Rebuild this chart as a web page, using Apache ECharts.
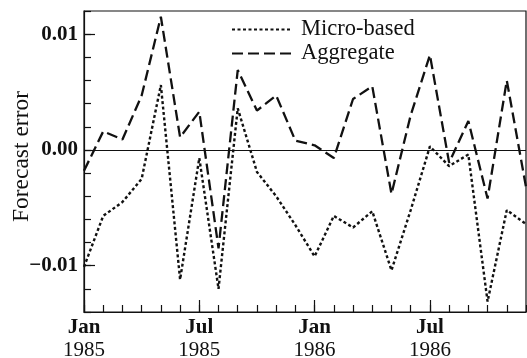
<!DOCTYPE html>
<html>
<head>
<meta charset="utf-8">
<script src="https://cdn.jsdelivr.net/npm/echarts@6/dist/echarts.min.js"></script>
<style>
html,body{margin:0;padding:0;background:#fff;}
#chart{width:527px;height:358px;}
</style>
</head>
<body>
<div id="chart"></div>
<script>
// ---- data ----
const months = [
  'Jan 1985','Feb 1985','Mar 1985','Apr 1985','May 1985','Jun 1985',
  'Jul 1985','Aug 1985','Sep 1985','Oct 1985','Nov 1985','Dec 1985',
  'Jan 1986','Feb 1986','Mar 1986','Apr 1986','May 1986','Jun 1986',
  'Jul 1986','Aug 1986','Sep 1986','Oct 1986','Nov 1986','Dec 1986'
];
const microBased = [
  -0.0101, -0.0057, -0.0045, -0.0025, 0.0056, -0.0112,
  -0.0007, -0.0120, 0.0036, -0.0019, -0.0040, -0.0065,
  -0.0092, -0.0057, -0.0067, -0.0053, -0.0104, -0.0052,
  0.0003, -0.0014, -0.0004, -0.0131, -0.0052, -0.0064
];
const aggregate = [
  -0.0018, 0.0016, 0.0009, 0.0047, 0.0115, 0.0011,
  0.0033, -0.0085, 0.0069, 0.0034, 0.0047, 0.0008,
  0.0004, -0.0007, 0.0044, 0.0055, -0.0038, 0.0030,
  0.0082, -0.0011, 0.0025, -0.0042, 0.0060, -0.0032
];
const yTickValues = [-0.01, 0, 0.01];
const yTickLabels = ['\u22120.01', '0.00', '0.01'];
const seriesNames = ['Micro-based', 'Aggregate'];
const yName = 'Forecast error';

// ---- chart ----
const FONT = "'Liberation Serif', 'DejaVu Serif', serif";
const INK = '#111';
const chart = echarts.init(document.getElementById('chart'), null, {renderer: 'canvas'});

function yLabel(v) {
  for (let i = 0; i < yTickValues.length; i++) {
    if (Math.abs(v - yTickValues[i]) < 1e-9) return yTickLabels[i];
  }
  return '';
}

const option = {
  backgroundColor: '#fff',
  animation: false,
  grid: {
    left: 84, right: 1, top: 11, bottom: 46,
    containLabel: false, outerBoundsMode: 'none',
    show: true, borderColor: INK, borderWidth: 1.2, backgroundColor: 'transparent'
  },
  legend: {
    data: seriesNames,
    orient: 'vertical',
    left: 231, top: 18,
    padding: 0,
    itemWidth: 59, itemHeight: 14, itemGap: 1,
    itemStyle: {color: 'transparent', borderColor: 'transparent', borderWidth: 0, opacity: 0},
    textStyle: {fontFamily: FONT, fontSize: 22.5, color: INK, lineHeight: 22, padding: [0, 0, 0, 5]}
  },
  xAxis: [
    {
      type: 'category', data: months, boundaryGap: false, position: 'bottom',
      axisLine: {show: true, onZero: false, lineStyle: {color: INK, width: 1.2}},
      axisTick: {show: true, inside: true, length: 7, interval: 0, lineStyle: {color: INK, width: 1.2}},
      axisLabel: {
        interval: function (i) { return i % 6 === 0; },
        margin: 5, color: INK,
        formatter: function (v) { const p = v.split(' '); return '{m|' + p[0] + '}\n{y|' + p[1] + '}'; },
        rich: {
          m: {fontFamily: FONT, fontSize: 21, fontWeight: 'bold', color: INK, lineHeight: 22},
          y: {fontFamily: FONT, fontSize: 21, color: INK, lineHeight: 22}
        }
      },
      splitLine: {show: false}
    },
    {
      type: 'category', data: months, boundaryGap: false, position: 'bottom',
      axisLine: {show: false, onZero: false},
      axisTick: {show: true, inside: true, length: 12, interval: function (i) { return i % 6 === 0; }, lineStyle: {color: INK, width: 1.2}},
      axisLabel: {show: false},
      splitLine: {show: false}
    }
  ],
  yAxis: [
    {
      type: 'value', min: -0.014, max: 0.012, interval: 0.002, position: 'left',
      axisLine: {show: true, onZero: false, lineStyle: {color: INK, width: 1.2}},
      axisTick: {show: true, inside: true, length: 7, lineStyle: {color: INK, width: 1.2}},
      axisLabel: {show: false},
      splitLine: {show: false}
    },
    {
      type: 'value', min: -0.014, max: 0.012, interval: 0.002, position: 'left',
      name: yName, nameLocation: 'middle', nameGap: 50, nameRotate: 90, nameMoveOverlap: false,
      nameTextStyle: {fontFamily: FONT, fontSize: 23.5, color: INK, padding: [0, 0, 0, 10]},
      axisLine: {show: false, onZero: false},
      axisTick: {show: true, inside: true, length: 11, customValues: yTickValues, lineStyle: {color: INK, width: 1.2}},
      axisLabel: {
        show: true, customValues: yTickValues, margin: 6,
        fontFamily: FONT, fontSize: 21, fontWeight: 'bold', color: INK,
        formatter: yLabel
      },
      splitLine: {show: false}
    }
  ],
  series: [
    {
      name: seriesNames[0], type: 'line', data: microBased, symbol: 'none',
      xAxisIndex: 0, yAxisIndex: 0,
      lineStyle: {color: INK, width: 2.4, type: [3, 2.5]},
      itemStyle: {color: INK},
      markLine: {
        silent: true, symbol: 'none', label: {show: false},
        lineStyle: {color: INK, width: 1.2, type: 'solid'},
        data: [{yAxis: 0}]
      }
    },
    {
      name: seriesNames[1], type: 'line', data: aggregate, symbol: 'none',
      xAxisIndex: 0, yAxisIndex: 0,
      lineStyle: {color: INK, width: 2.3, type: [11, 5]},
      itemStyle: {color: INK}
    }
  ]
};
chart.setOption(option);
</script>
</body>
</html>
